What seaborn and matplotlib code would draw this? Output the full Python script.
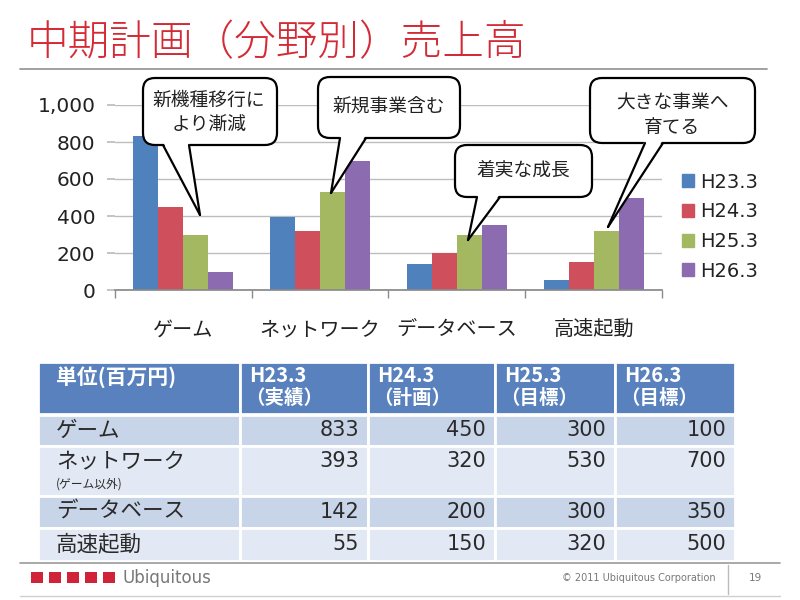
import numpy as np
import pandas as pd
import matplotlib
matplotlib.use("Agg")
import matplotlib.pyplot as plt
import matplotlib.transforms as mtransforms
from matplotlib.patches import FancyBboxPatch, Polygon, Rectangle
from matplotlib.lines import Line2D
import seaborn as sns

# ---------------- data ----------------
categories = ["ゲーム", "ネットワーク", "データベース", "高速起動"]
periods = ["H23.3", "H24.3", "H25.3", "H26.3"]
period_notes = ["（実績）", "（計画）", "（目標）", "（目標）"]
h23 = [833, 393, 142, 55]
h24 = [450, 320, 200, 150]
h25 = [300, 530, 300, 320]
h26 = [100, 700, 350, 500]
yticks = [0, 200, 400, 600, 800, 1000]
row_labels = ["ゲーム", "ネットワーク", "データベース", "高速起動"]
row_sublabels = ["", "(ゲーム以外)", "", ""]
unit_label = "単位(百万円)"
title = "中期計画（分野別）売上高"
callout_texts = ["新機種移行に\nより漸減", "新規事業含む", "着実な成長", "大きな事業へ\n育てる"]

colors = ["#4f81bd", "#cf4f5c", "#a4b862", "#8d6bb0"]

sns.set_theme(style="white")
plt.rcParams["font.family"] = ["Noto Sans CJK JP", "DejaVu Sans"]

fig = plt.figure(figsize=(8, 6), dpi=100)
fig.patch.set_facecolor("white")

# pixel transform (top-left origin)
PX = mtransforms.Affine2D().scale(1 / 800, -1 / 600).translate(0, 1) + fig.transFigure

# ---------------- title ----------------
fig.text(27, 43, title, transform=PX, fontsize=30, color="#d42a35",
         va="center", ha="left", fontweight="light")
fig.add_artist(Line2D([20, 767], [69, 69], transform=PX, color="#9a9a9a", lw=1.3))

# ---------------- bar chart ----------------
values = [h23, h24, h25, h26]
df = pd.DataFrame({
    "category": np.repeat(categories, len(periods)),
    "period": periods * len(categories),
    "value": [values[j][i] for i in range(len(categories)) for j in range(len(periods))],
})

ax = fig.add_axes([115 / 800, 1 - 290 / 600, (662 - 115) / 800, (290 - 105) / 600])
sns.barplot(data=df, x="category", y="value", hue="period", order=categories,
            hue_order=periods, palette=colors, width=0.73, saturation=1,
            ax=ax, legend=False, edgecolor="none")
ax.set_ylim(0, 1000)
ax.set_xlim(-0.5, len(categories) - 0.5)
ax.set_yticks(yticks)
ax.set_yticklabels([f"{v:,}" for v in yticks], fontsize=14.5, color="#222222",
                   family=["DejaVu Sans"])
ax.yaxis.grid(True, color="#bdbdbd", lw=1)
ax.set_axisbelow(True)
for s in ["top", "right", "left"]:
    ax.spines[s].set_visible(False)
ax.spines["bottom"].set_color("#8a8a8a")
ax.tick_params(axis="y", length=6, color="#bdbdbd", pad=8, left=True)
ax.set_xticks(range(len(categories)))
ax.set_xticklabels(categories, fontsize=14.5, color="#222222")
ax.tick_params(axis="x", length=0, pad=21)
ax.set_xticks(np.arange(-0.5, len(categories)), minor=True)
ax.tick_params(axis="x", which="minor", length=6, color="#8a8a8a", bottom=True)
ax.set_xlabel("")
ax.set_ylabel("")

# legend
handles = [Rectangle((0, 0), 1, 1, color=c) for c in colors]
leg = fig.legend(handles, periods, loc="upper left",
                 bbox_to_anchor=(672 / 800, 1 - 163 / 600), frameon=False,
                 fontsize=14, handlelength=0.65, handleheight=0.65,
                 handletextpad=0.3, labelspacing=0.55, borderpad=0)
for t in leg.get_texts():
    t.set_color("#222222")
    t.set_family(["DejaVu Sans"])

# ---------------- callouts ----------------
def callout(box, base, tip, text, tx, ty):
    x0, y0, x1, y1 = box
    bb = FancyBboxPatch((x0, y0), x1 - x0, y1 - y0,
                        boxstyle="round,pad=0,rounding_size=12",
                        transform=PX, facecolor="white", edgecolor="black",
                        lw=1.6, zorder=5)
    fig.add_artist(bb)
    b0, b1 = base
    poly = Polygon([(b0, y1 - 3), (b1, y1 - 3), tip], closed=True,
                   transform=PX, facecolor="white", edgecolor="none", zorder=6)
    fig.add_artist(poly)
    fig.add_artist(Line2D([b0, tip[0]], [y1, tip[1]], transform=PX,
                          color="black", lw=1.6, zorder=7))
    fig.add_artist(Line2D([b1, tip[0]], [y1, tip[1]], transform=PX,
                          color="black", lw=1.6, zorder=7))
    fig.text(tx, ty, text, transform=PX, ha="center", va="center",
             fontsize=13.5, color="#222222", linespacing=1.2, zorder=8)

callout((143, 78, 277, 145), (163, 189), (200, 215), callout_texts[0], 209, 112)
callout((318, 77, 460, 138), (340, 366), (331, 193), callout_texts[1], 389, 107)
callout((455, 145, 592, 197), (477, 500), (468, 240), callout_texts[2], 523, 170)
callout((590, 78, 755, 143), (645, 663), (608, 227), callout_texts[3], 672, 115)

# ---------------- table ----------------
col_edges = [38, 240, 368, 495, 615, 735]
row_edges = [(362, 414), (415, 446), (446, 496), (496, 528), (528, 561)]
header_c = "#5881bd"
row_c = ["#c8d4e8", "#e3e9f4"]

def cell(x0, x1, y0, y1, c):
    fig.add_artist(Rectangle((x0, y0), x1 - x0, y1 - y0, transform=PX,
                             facecolor=c, edgecolor="white", lw=2.0, zorder=2))

y0, y1 = row_edges[0]
for ci in range(5):
    cell(col_edges[ci], col_edges[ci + 1], y0, y1, header_c)
fig.text(56, 377, unit_label, transform=PX, fontsize=15, fontweight="bold",
         color="white", va="center", ha="left", zorder=3)
for ci, (p, n) in enumerate(zip(periods, period_notes)):
    x = col_edges[ci + 1] + 9
    fig.text(x, 376, p, transform=PX, fontsize=14.5, fontweight="bold",
             color="white", va="center", ha="left", zorder=3)
    fig.text(x - 4, 398, n, transform=PX, fontsize=14, fontweight="bold",
             color="white", va="center", ha="left", zorder=3)

table_vals = [[h23[i], h24[i], h25[i], h26[i]] for i in range(len(categories))]
for ri in range(len(row_labels)):
    y0, y1 = row_edges[ri + 1]
    c = row_c[ri % 2]
    for ci in range(5):
        cell(col_edges[ci], col_edges[ci + 1], y0, y1, c)
    ty = (y0 + y1) / 2 if not row_sublabels[ri] else y0 + 15
    fig.text(56, ty, row_labels[ri], transform=PX, fontsize=15.5,
             color="#2a2a2a", va="center", ha="left", zorder=3)
    if row_sublabels[ri]:
        fig.text(56, y0 + 38, row_sublabels[ri], transform=PX, fontsize=8.5,
                 color="#2a2a2a", va="center", ha="left", zorder=3)
    for ci in range(4):
        fig.text(col_edges[ci + 2] - 9, ty, f"{table_vals[ri][ci]}", transform=PX,
                 fontsize=15, color="#2a2a2a", va="center", ha="right", zorder=3,
                 family=["DejaVu Sans"])

# ---------------- footer ----------------
fig.add_artist(Line2D([20, 780], [563, 563], transform=PX, color="#9a9a9a", lw=1.2))
fig.add_artist(Line2D([20, 780], [596, 596], transform=PX, color="#cfcfcf", lw=1.0))
for k in range(5):
    fig.add_artist(Rectangle((31 + k * 18, 572), 12, 11, transform=PX,
                             facecolor="#d0233a", edgecolor="none"))
fig.text(122, 578, "Ubiquitous", transform=PX, fontsize=12, color="#777777",
         va="center", ha="left", family=["DejaVu Sans"])
fig.text(716, 578, "© 2011 Ubiquitous Corporation", transform=PX, fontsize=7,
         color="#777777", va="center", ha="right", family=["DejaVu Sans"])
fig.add_artist(Line2D([728, 728], [565, 594], transform=PX, color="#bbbbbb", lw=1))
fig.text(755, 578, "19", transform=PX, fontsize=7.5, color="#777777",
         va="center", ha="center", family=["DejaVu Sans"])

fig.savefig("out.png", dpi=100)
